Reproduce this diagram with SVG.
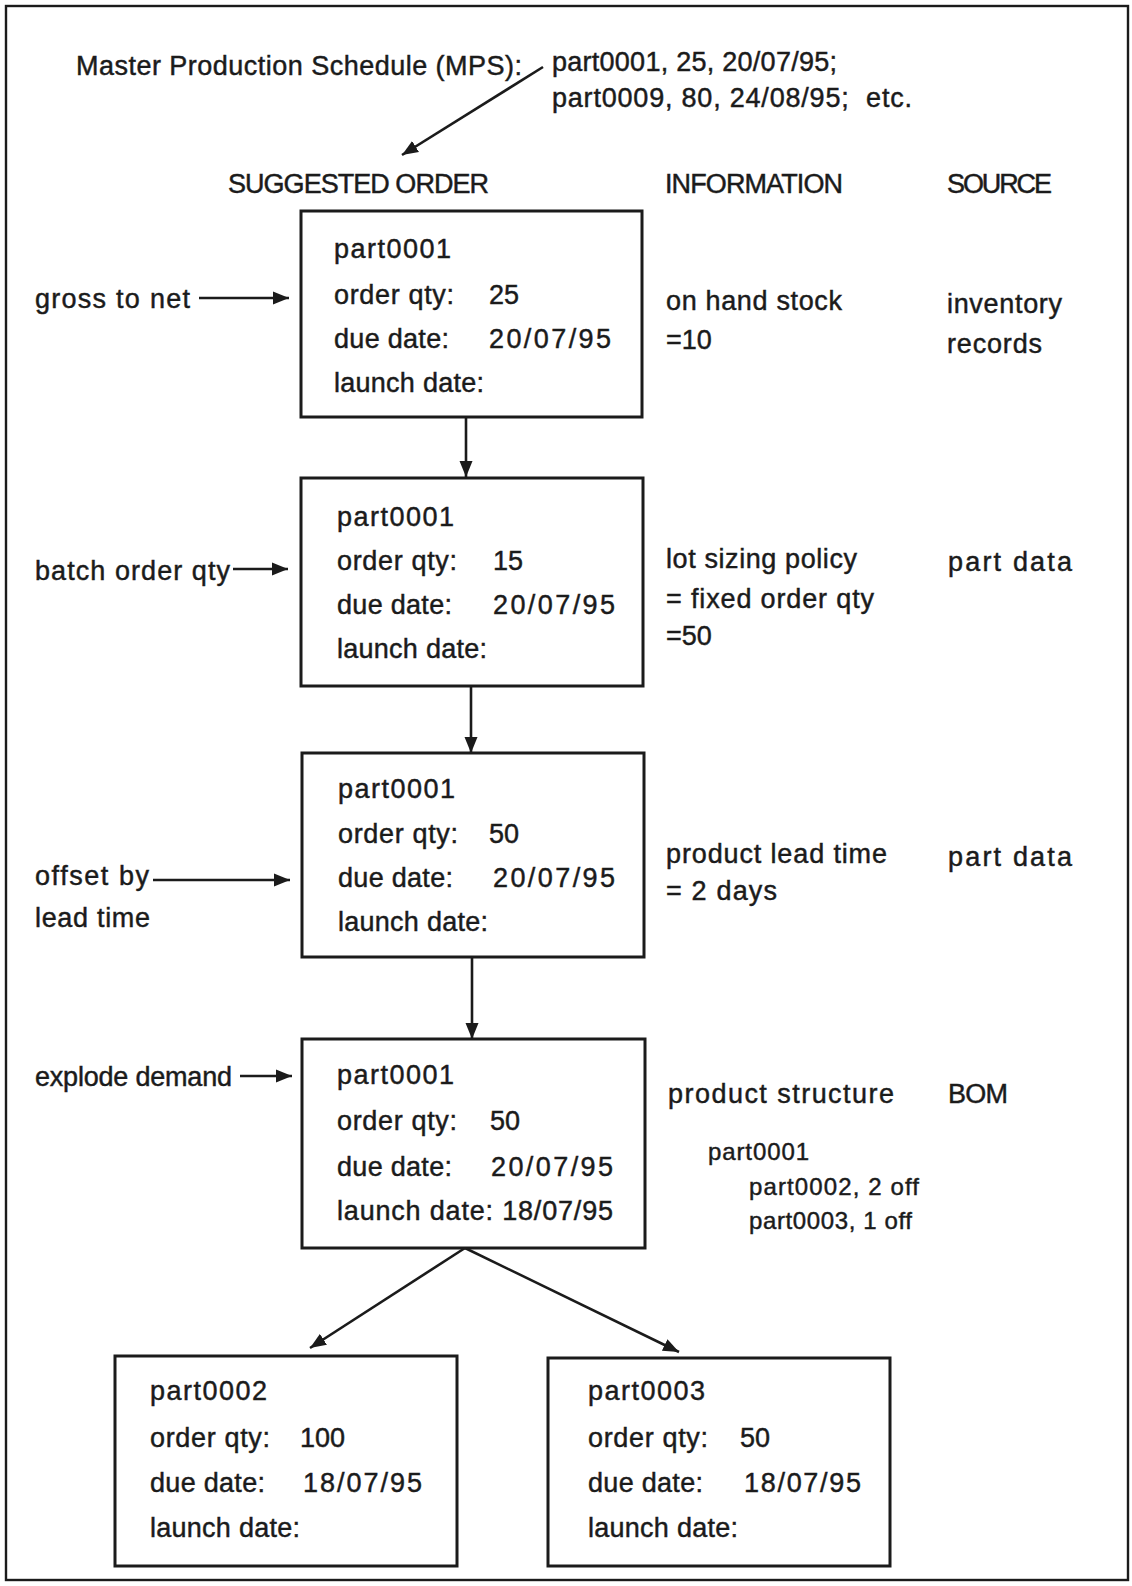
<svg xmlns="http://www.w3.org/2000/svg" width="1132" height="1586" viewBox="0 0 1132 1586">
  <style>
    .t { font-family: "Liberation Sans", Arial, sans-serif; font-size: 27px; fill: #1b1b1b; stroke: #1b1b1b; stroke-width: 0.45; }
    .s { font-size: 24px; }
    .box { fill: #ffffff; stroke: #1b1b1b; stroke-width: 3; }
    .wire { fill: none; stroke: #1b1b1b; stroke-width: 2.6; marker-end: url(#ah); }
    .frame { fill: #ffffff; stroke: #1b1b1b; stroke-width: 2.4; }
  </style>
  <defs>
    <marker id="ah" markerUnits="userSpaceOnUse" markerWidth="18" markerHeight="14" refX="16" refY="7" orient="auto">
      <path d="M0,0.5 L16,7 L0,13.5 Z" fill="#1b1b1b"/>
    </marker>
  </defs>

  <!-- outer frame -->
  <rect class="frame" x="6" y="6" width="1122" height="1574"/>

  <!-- header lines -->
  <g id="mps">
    <text class="t" x="76" y="75" textLength="446">Master Production Schedule (MPS):</text>
    <text class="t" x="552" y="71" textLength="285">part0001, 25, 20/07/95;</text>
    <text class="t" x="552" y="107" textLength="360" xml:space="preserve">part0009, 80, 24/08/95;  etc.</text>
  </g>
  <g id="headings">
    <text class="t" x="228" y="193" textLength="261">SUGGESTED ORDER</text>
    <text class="t" x="665" y="193" textLength="178">INFORMATION</text>
    <text class="t" x="947" y="193" textLength="105">SOURCE</text>
  </g>

  <!-- connectors -->
  <g id="connectors">
    <path class="wire" d="M543,67 L402,155"/>
    <path class="wire" d="M466,417 L466,477"/>
    <path class="wire" d="M471,686 L471,753"/>
    <path class="wire" d="M472,957 L472,1039"/>
    <path class="wire" d="M465,1248 L310,1348"/>
    <path class="wire" d="M465,1248 L679,1352"/>
    <path class="wire" d="M199,298 L289,298"/>
    <path class="wire" d="M233,569 L288,569"/>
    <path class="wire" d="M153,880 L290,880"/>
    <path class="wire" d="M240,1076 L292,1076"/>
  </g>

  <!-- step 1: gross to net -->
  <g id="order1">
    <rect class="box" x="301" y="211" width="341" height="206"/>
    <text class="t" x="334" y="258" textLength="117">part0001</text>
    <text class="t" x="334" y="304" textLength="120">order qty:</text>
    <text class="t" x="489" y="304">25</text>
    <text class="t" x="334" y="348" textLength="115">due date:</text>
    <text class="t" x="489" y="348" textLength="122">20/07/95</text>
    <text class="t" x="334" y="392" textLength="150">launch date:</text>
  </g>
  <g id="step1">
    <text class="t" x="35" y="308" textLength="155">gross to net</text>
    <text class="t" x="666" y="310" textLength="176">on hand stock</text>
    <text class="t" x="666" y="349">=10</text>
    <text class="t" x="947" y="313" textLength="115">inventory</text>
    <text class="t" x="947" y="353" textLength="95">records</text>
  </g>

  <!-- step 2: batch order qty -->
  <g id="order2">
    <rect class="box" x="301" y="478" width="342" height="208"/>
    <text class="t" x="337" y="526" textLength="117">part0001</text>
    <text class="t" x="337" y="570" textLength="120">order qty:</text>
    <text class="t" x="493" y="570">15</text>
    <text class="t" x="337" y="614" textLength="115">due date:</text>
    <text class="t" x="493" y="614" textLength="122">20/07/95</text>
    <text class="t" x="337" y="658" textLength="150">launch date:</text>
  </g>
  <g id="step2">
    <text class="t" x="35" y="580" textLength="195">batch order qty</text>
    <text class="t" x="666" y="568" textLength="191">lot sizing policy</text>
    <text class="t" x="666" y="608" textLength="208">= fixed order qty</text>
    <text class="t" x="666" y="645">=50</text>
    <text class="t" x="948" y="571" textLength="124">part data</text>
  </g>

  <!-- step 3: offset by lead time -->
  <g id="order3">
    <rect class="box" x="302" y="753" width="342" height="204"/>
    <text class="t" x="338" y="798" textLength="117">part0001</text>
    <text class="t" x="338" y="843" textLength="120">order qty:</text>
    <text class="t" x="489" y="843">50</text>
    <text class="t" x="338" y="887" textLength="115">due date:</text>
    <text class="t" x="493" y="887" textLength="122">20/07/95</text>
    <text class="t" x="338" y="931" textLength="150">launch date:</text>
  </g>
  <g id="step3">
    <text class="t" x="35" y="885" textLength="114">offset by</text>
    <text class="t" x="35" y="927" textLength="115">lead time</text>
    <text class="t" x="666" y="863" textLength="221">product lead time</text>
    <text class="t" x="666" y="900" textLength="111">= 2 days</text>
    <text class="t" x="948" y="866" textLength="124">part data</text>
  </g>

  <!-- step 4: explode demand -->
  <g id="order4">
    <rect class="box" x="302" y="1039" width="343" height="209"/>
    <text class="t" x="337" y="1084" textLength="117">part0001</text>
    <text class="t" x="337" y="1130" textLength="120">order qty:</text>
    <text class="t" x="490" y="1130">50</text>
    <text class="t" x="337" y="1176" textLength="115">due date:</text>
    <text class="t" x="491" y="1176" textLength="122">20/07/95</text>
    <text class="t" x="337" y="1220" textLength="276">launch date: 18/07/95</text>
  </g>
  <g id="step4">
    <text class="t" x="35" y="1086" textLength="197">explode demand</text>
    <text class="t" x="668" y="1103" textLength="226">product structure</text>
    <text class="t" x="948" y="1103" textLength="60">BOM</text>
    <text class="t s" x="708" y="1160" textLength="101">part0001</text>
    <text class="t s" x="749" y="1195" textLength="170">part0002, 2 off</text>
    <text class="t s" x="749" y="1229" textLength="163">part0003, 1 off</text>
  </g>

  <!-- component orders -->
  <g id="order5">
    <rect class="box" x="115" y="1356" width="342" height="210"/>
    <text class="t" x="150" y="1400" textLength="117">part0002</text>
    <text class="t" x="150" y="1447" textLength="120">order qty:</text>
    <text class="t" x="300" y="1447">100</text>
    <text class="t" x="150" y="1492" textLength="115">due date:</text>
    <text class="t" x="303" y="1492" textLength="119">18/07/95</text>
    <text class="t" x="150" y="1537" textLength="150">launch date:</text>
  </g>
  <g id="order6">
    <rect class="box" x="548" y="1358" width="342" height="208"/>
    <text class="t" x="588" y="1400" textLength="117">part0003</text>
    <text class="t" x="588" y="1447" textLength="120">order qty:</text>
    <text class="t" x="740" y="1447">50</text>
    <text class="t" x="588" y="1492" textLength="115">due date:</text>
    <text class="t" x="744" y="1492" textLength="117">18/07/95</text>
    <text class="t" x="588" y="1537" textLength="150">launch date:</text>
  </g>
</svg>
